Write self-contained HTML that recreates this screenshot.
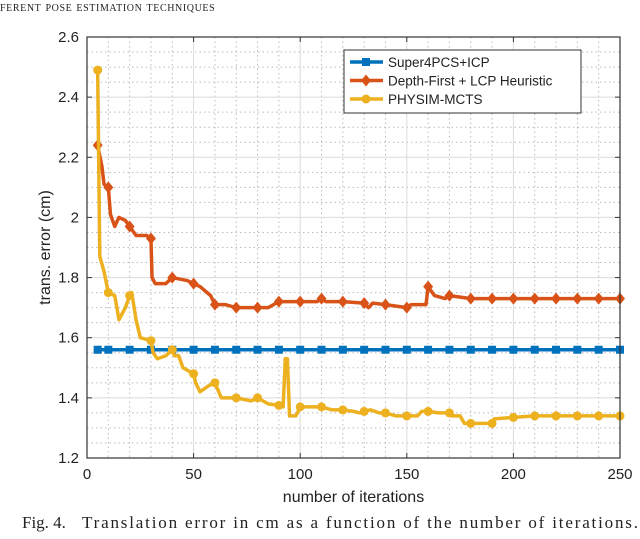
<!DOCTYPE html>
<html><head><meta charset="utf-8"><style>
body{margin:0;background:#fff;width:640px;height:534px;overflow:hidden;font-family:"Liberation Sans",sans-serif}
svg text{font-family:"Liberation Sans",sans-serif}
</style></head><body>
<svg id="chart" width="640" height="534">
<text x="0" y="11" style="font-family:'Liberation Serif',serif;font-variant:small-caps" font-size="14" fill="#222" letter-spacing="0.6">ferent pose estimation techniques</text>
<text x="22" y="528" style="font-family:'Liberation Serif',serif" font-size="17" fill="#222">Fig. 4.</text>
<text x="82" y="528" style="font-family:'Liberation Serif',serif" font-size="17" fill="#222" textLength="556" lengthAdjust="spacing">Translation error in cm as a function of the number of iterations.</text>
<g id="grid"></g><g id="series"></g><g id="axes"></g>
</svg>
<script>
const xTicks=[0,50,100,150,200,250];
const yTicks=[1.2,1.4,1.6,1.8,2,2.2,2.6,2.4];
const seriesNames=["Super4PCS+ICP","Depth-First + LCP Heuristic","PHYSIM-MCTS"];
const blueX=[5,10,20,30,40,50,60,70,80,90,100,110,120,130,140,150,160,170,180,190,200,210,220,230,240,250];
const blueY=1.56;
const redPts=[[5,2.24],[7,2.17],[8,2.11],[10,2.10],[11,2.01],[13,1.97],[15,2.0],[18,1.99],[20,1.97],[21,1.96],[23,1.94],[28,1.94],[30,1.93],[30.5,1.80],[32,1.78],[37,1.78],[40,1.80],[47,1.79],[50,1.78],[53,1.77],[58,1.74],[60,1.71],[65,1.71],[70,1.70],[80,1.70],[85,1.70],[90,1.72],[100,1.72],[108,1.72],[110,1.73],[112,1.72],[120,1.72],[130,1.715],[132,1.70],[134,1.715],[140,1.71],[150,1.70],[152,1.71],[159,1.71],[160,1.77],[163,1.74],[168,1.73],[170,1.74],[180,1.73],[190,1.73],[200,1.73],[210,1.73],[220,1.73],[230,1.73],[240,1.73],[250,1.73]];
const yellowPts=[[5,2.49],[6,1.87],[8,1.82],[10,1.75],[13,1.74],[15,1.66],[18,1.70],[20,1.74],[21,1.75],[23,1.66],[25,1.60],[30,1.59],[31,1.55],[33,1.53],[37,1.54],[40,1.56],[41,1.54],[43,1.54],[45,1.50],[50,1.48],[51,1.45],[53,1.42],[57,1.44],[60,1.45],[63,1.40],[70,1.40],[77,1.39],[80,1.40],[85,1.38],[90,1.375],[92,1.37],[93,1.53],[94,1.53],[95,1.34],[98,1.34],[100,1.37],[110,1.37],[115,1.36],[120,1.36],[125,1.355],[128,1.35],[130,1.355],[133,1.36],[137,1.35],[140,1.35],[145,1.34],[150,1.34],[155,1.34],[157,1.355],[160,1.355],[165,1.35],[170,1.35],[171,1.34],[175,1.34],[177,1.315],[180,1.315],[185,1.315],[190,1.315],[191,1.33],[200,1.335],[210,1.34],[220,1.34],[230,1.34],[240,1.34],[250,1.34]];
const L=87,R=620,T=37,B=458,x0=0,x1=250,y0=1.2,y1=2.6;
const sx=v=>L+(v-x0)/(x1-x0)*(R-L);
const sy=v=>B-(v-y0)/(y1-y0)*(B-T);
const NS="http://www.w3.org/2000/svg";
function mk(tag,attrs,parent){const e=document.createElementNS(NS,tag);for(const k in attrs)e.setAttribute(k,attrs[k]);parent.appendChild(e);return e;}
const grid=document.getElementById('grid'),ser=document.getElementById('series'),ax=document.getElementById('axes');
mk('rect',{x:L,y:T,width:R-L,height:B-T,fill:'#fff'},grid);
for(let v=0;v<=250;v+=10){if(v%50){const l=mk('line',{x1:sx(v),x2:sx(v),y1:T,y2:B,stroke:'#bbb','stroke-dasharray':'1.5,3','stroke-width':1},grid);

}}
for(let i=0;i<=28;i++){const v=1.2+i*0.05;if(i%4){const l=mk('line',{x1:L,x2:R,y1:sy(v),y2:sy(v),stroke:'#bbb','stroke-dasharray':'1.5,3','stroke-width':1},grid);

}}
xTicks.forEach(v=>{const l=mk('line',{x1:sx(v),x2:sx(v),y1:T,y2:B,stroke:'#dcdcdc','stroke-width':1},grid);


mk('line',{x1:sx(v),x2:sx(v),y1:B,y2:B-5,stroke:'#333'},ax);mk('line',{x1:sx(v),x2:sx(v),y1:T,y2:T+5,stroke:'#333'},ax);
const t=mk('text',{x:sx(v),y:B+21,'text-anchor':'middle','font-size':15,fill:'#222'},ax);t.textContent=v;

});
yTicks.forEach(v=>{const l=mk('line',{x1:L,x2:R,y1:sy(v),y2:sy(v),stroke:'#dcdcdc','stroke-width':1},grid);


mk('line',{x1:L,x2:L+5,y1:sy(v),y2:sy(v),stroke:'#333'},ax);mk('line',{x1:R,x2:R-5,y1:sy(v),y2:sy(v),stroke:'#333'},ax);
const t=mk('text',{x:L-8,y:sy(v)+5,'text-anchor':'end','font-size':15,fill:'#222'},ax);t.textContent=(v===2?'2':v.toFixed(1));

});
mk('rect',{x:L,y:T,width:R-L,height:B-T,fill:'none',stroke:'#333','stroke-width':1.2},ax);
const xt=mk('text',{x:(L+R)/2,y:B+44,'text-anchor':'middle','font-size':16,fill:'#222'},ax);xt.textContent='number of iterations';


const yt=mk('text',{x:0,y:0,'text-anchor':'middle','font-size':16,fill:'#222',transform:`translate(50,${(T+B)/2}) rotate(-90)`},ax);yt.textContent='trans. error (cm)';


function marker(type,x,y,c,g){
 if(type==='s')return mk('rect',{x:x-4,y:y-4,width:8,height:8,fill:c},g);
 if(type==='d')return mk('polygon',{points:`${x},${y-6} ${x+5},${y} ${x},${y+6} ${x-5},${y}`,fill:c},g);
 return mk('circle',{cx:x,cy:y,r:4.5,fill:c},g);}
function drawLine(pts,c,type,name){
 const g=mk('g',{},ser);
 
 
 mk('polyline',{points:pts.map(p=>sx(p[0])+','+sy(p[1])).join(' '),fill:'none',stroke:c,'stroke-width':3.5,'stroke-linejoin':'round'},g);
 pts.forEach(p=>{if(p[0]===5||p[0]%10===0){const m=marker(type,sx(p[0]),sy(p[1]),c,g);
 
 }});}
drawLine(blueX.map(x=>[x,blueY]),'#0072bd','s','super4pcs-series');
drawLine(redPts,'#d95319','d','depth-first-series');
drawLine(yellowPts,'#edb120','o','physim-mcts-series');
const lg=mk('g',{},ax);


mk('rect',{x:344,y:50,width:237,height:63,fill:'#fff',stroke:'#333','stroke-width':1},lg);
const cols=['#0072bd','#d95319','#edb120'],types=['s','d','o'];
seriesNames.forEach((n,i)=>{const y=62+i*18.5;
 const e=mk('g',{},lg);
 
 
 mk('line',{x1:350,x2:383,y1:y,y2:y,stroke:cols[i],'stroke-width':3.5},e);
 marker(types[i],366,y,cols[i],e);
 const t=mk('text',{x:388,y:y+5,'font-size':13.5,fill:'#222'},e);t.textContent=n;});
</script>
</body></html>
